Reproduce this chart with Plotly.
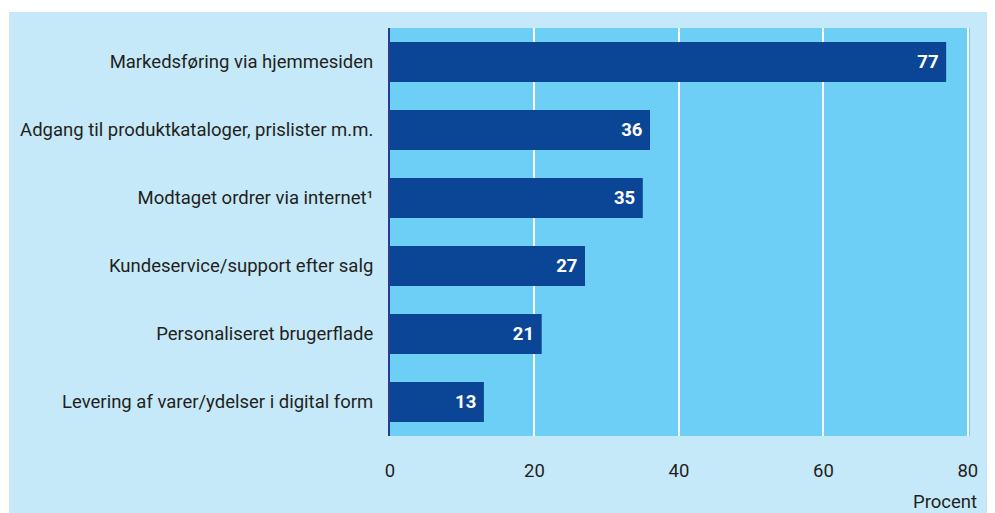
import plotly.graph_objects as go

categories = [
    "Markedsføring via hjemmesiden",
    "Adgang til produktkataloger, prislister m.m.",
    "Modtaget ordrer via internet¹",
    "Kundeservice/support efter salg",
    "Personaliseret brugerflade",
    "Levering af varer/ydelser i digital form",
]
values = [77, 36, 35, 27, 21, 13]
x_ticks = [0, 20, 40, 60, 80]
x_unit = "Procent"

FONT = "Roboto, sans-serif"
TXT = "#231f20"
FS = 18.5

L, R, T, B = 382, 33, 20, 85
PW, PH = 995 - L - R, 513 - T - B

fig = go.Figure(go.Bar(
    y=categories, x=values, orientation="h",
    marker=dict(color="#0b4595", line=dict(width=0)),
    width=0.59,
    text=[f"{v}\u00a0" for v in values], textposition="inside",
    insidetextanchor="end",
    textfont=dict(color="white", size=FS, family=FONT, weight="bold"),
    cliponaxis=False,
))

fig.update_layout(
    width=995, height=513,
    margin=dict(l=L, r=R, t=T, b=B, autoexpand=False),
    paper_bgcolor="#c6e9f9",
    plot_bgcolor="#6dcff6",
    showlegend=False,
    font=dict(family=FONT, color=TXT, size=FS),
    xaxis=dict(range=[0, 80.3], tickvals=x_ticks, showgrid=True,
               gridcolor="white", gridwidth=2, zeroline=False,
               ticks="outside", ticklen=18, tickcolor="rgba(0,0,0,0)",
               tickfont=dict(size=FS, family=FONT, color=TXT),
               automargin=False, fixedrange=True),
    yaxis=dict(categoryorder="array", categoryarray=categories[::-1],
               range=[-0.5, 5.5], showgrid=False, zeroline=False,
               showline=True, linecolor="#2b3990", linewidth=2,
               ticks="outside", ticklen=11, tickcolor="rgba(0,0,0,0)",
               tickfont=dict(size=FS, family=FONT, color=TXT),
               automargin=False),
    annotations=[dict(text=x_unit, xref="paper", yref="paper",
                      x=1, xshift=9, xanchor="right",
                      y=0, yshift=-66, yanchor="middle", showarrow=False,
                      font=dict(size=FS, family=FONT, color=TXT))],
    shapes=[
        dict(type="rect", xref="paper", yref="paper", x0=-0.8, x1=1.2,
             y0=(PH + T - 4) / PH, y1=1.3, fillcolor="white",
             line=dict(width=0), layer="below"),
        dict(type="rect", xref="paper", yref="paper", x0=-0.8,
             x1=(1 - L) / PW, y0=-0.4, y1=1.3, fillcolor="white",
             line=dict(width=0), layer="below"),
    ],
)

fig.write_html("out.html")
